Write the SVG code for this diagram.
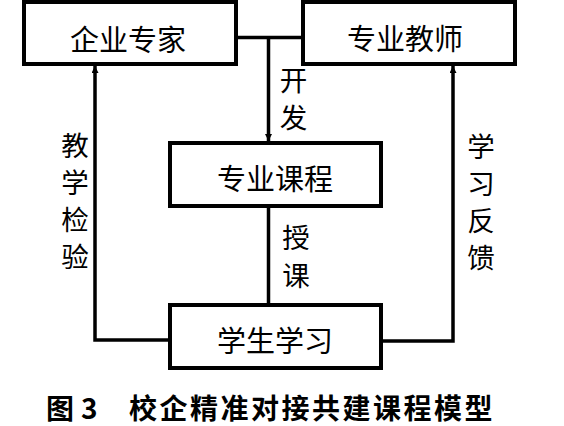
<svg xmlns="http://www.w3.org/2000/svg" width="564" height="426" viewBox="0 0 564 426">
<defs>
<style>
.box{fill:#fff;stroke:#000;stroke-width:4}
.ln{fill:none;stroke:#000;stroke-width:3.5}
.t{font-family:"Noto Sans CJK SC","Noto Sans CJK JP",sans-serif;font-size:29px;fill:#000;text-anchor:middle;dominant-baseline:central}
.v{font-size:27.5px}
.cap{font-family:"Noto Sans CJK SC",sans-serif;font-size:28px;font-weight:bold;fill:#000;dominant-baseline:central}
</style>
<marker id="ah" viewBox="0 0 10 10" refX="10" refY="5" markerWidth="2" markerHeight="2" orient="auto" markerUnits="strokeWidth">
<path d="M0,0 L10,5 L0,10 z" fill="#000"/>
</marker>
</defs>
<rect width="564" height="426" fill="#fff"/>
<g id="connectors">
<line class="ln" x1="236" y1="37.5" x2="303" y2="37.5"/>
<path class="ln" d="M268.5,37.5 V141" marker-end="url(#ah)"/>
<path class="ln" d="M268.5,206 V305"/>
<path class="ln" d="M170,340 H95 V66" marker-end="url(#ah)"/>
<path class="ln" d="M381,341 H453 V66" marker-end="url(#ah)"/>
<text class="t v" x="293.5" y="79">开</text>
<text class="t v" x="293.5" y="116">发</text>
<text class="t v" x="296" y="236">授</text>
<text class="t v" x="296" y="274">课</text>
<text class="t v" x="75" y="144">教</text>
<text class="t v" x="75" y="181">学</text>
<text class="t v" x="75" y="218">检</text>
<text class="t v" x="75" y="255">验</text>
<text class="t v" x="481" y="145">学</text>
<text class="t v" x="481" y="182">习</text>
<text class="t v" x="481" y="219">反</text>
<text class="t v" x="481" y="256">馈</text>
</g>
<g id="qiye">
<rect class="box" x="24" y="2" width="212" height="62"/>
<text class="t" x="128" y="37.5">企业专家</text>
</g>
<g id="jiaoshi">
<rect class="box" x="303" y="2" width="212" height="62"/>
<text class="t" x="405" y="37">专业教师</text>
</g>
<g id="kecheng">
<rect class="box" x="170" y="143" width="211" height="63"/>
<text class="t" x="275" y="176.5">专业课程</text>
</g>
<g id="xuesheng">
<rect class="box" x="170" y="305" width="211" height="63"/>
<text class="t" x="275" y="339">学生学习</text>
</g>
<text class="cap" y="407"><tspan x="46">图</tspan><tspan x="81">3</tspan><tspan x="129" letter-spacing="2.5">校企精准对接共建课程模型</tspan></text>
</svg>
